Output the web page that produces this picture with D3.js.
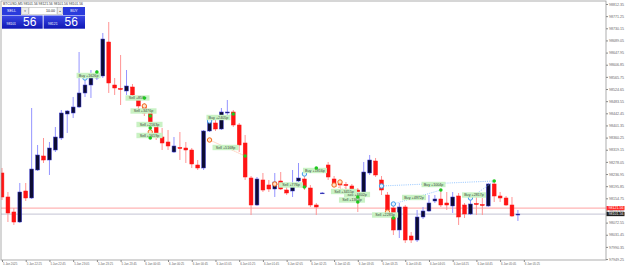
<!DOCTYPE html>
<html>
<head>
<meta charset="utf-8">
<script src="https://cdn.jsdelivr.net/npm/d3@7"></script>
<style>
  body { margin: 0; background: #fff; }
  svg { display: block; font-family: "Liberation Sans", Arial, sans-serif; }
</style>
</head>
<body>
<svg width="625" height="268"></svg>
<script>
// ---------------------------- data -----------------------------
// BTCUSD M5 bars
var opens = [98240.47,98159.25,98108.49,98074.65,98179.56,98155.87,98250.62,98298.00,98284.46,98318.30,
  98358.91,98440.12,98443.51,98463.81,98511.19,98538.26,98561.95,98568.72,98683.77,98538.26,
  98526.42,98517.96,98531.49,98487.50,98467.20,98443.51,98402.90,98362.29,98345.37,98311.53,
  98326.76,98325.07,98318.30,98267.54,98257.39,98382.60,98409.67,98389.36,98443.51,98446.89,
  98402.90,98341.99,98223.55,98132.18,98216.78,98199.86,98186.32,98213.40,98182.94,98179.56,
  98213.40,98220.16,98189.71,98132.18,98172.79,98267.54,98220.16,98206.63,98201.55,98196.48,
  98182.94,98166.02,98240.47,98281.08,98216.78,98166.02,98122.03,98047.58,98125.41,98027.28,
  98013.74,98091.57,98111.88,98145.72,98152.48,98138.95,98128.80,98162.64,98132.18,98101.72,
  98137.26,98133.87,98128.80,98203.24,98162.64,98155.87,98132.18,98098.34];
var highs = [98257.39,98176.17,98122.03,98206.63,98206.63,98460.43,98335.22,98358.91,98345.37,98396.13,
  98453.66,98453.66,98497.65,98649.93,98555.18,98589.02,98589.02,98714.23,98751.45,98561.95,
  98639.78,98589.02,98541.64,98501.04,98477.35,98453.66,98413.05,98392.75,98385.98,98362.29,
  98379.21,98345.37,98325.07,98284.46,98385.98,98419.82,98423.20,98460.43,98487.50,98453.66,
  98409.67,98369.06,98230.32,98226.93,98240.47,98216.78,98240.47,98243.85,98199.86,98250.62,
  98274.31,98233.70,98199.86,98138.95,98176.17,98277.69,98230.32,98216.78,98210.01,98203.24,
  98189.71,98277.69,98301.38,98291.23,98230.32,98176.17,98132.18,98138.95,98132.18,98040.81,
  98115.26,98125.41,98166.02,98166.02,98182.94,98176.17,98176.17,98172.79,98138.95,98149.10,
  98166.02,98155.87,98206.63,98210.01,98176.17,98162.64,98159.25,98115.26];
var lows = [98149.10,98074.65,98064.50,98071.27,98145.72,98152.48,98247.24,98274.31,98233.70,98311.53,
  98352.14,98375.83,98426.59,98460.43,98497.65,98494.27,98555.18,98561.95,98511.19,98504.42,
  98470.58,98504.42,98487.50,98453.66,98433.36,98385.98,98352.14,98318.30,98318.30,98308.15,
  98284.46,98274.31,98257.39,98250.62,98250.62,98379.21,98382.60,98385.98,98436.74,98396.13,
  98311.53,98216.78,98098.34,98128.80,98176.17,98176.17,98159.25,98182.94,98166.02,98159.25,
  98210.01,98182.94,98125.41,98098.34,98169.40,98216.78,98193.09,98189.71,98182.94,98166.02,
  98108.49,98159.25,98233.70,98226.93,98166.02,98108.49,98030.66,98020.51,98003.59,98003.59,
  98006.97,98084.80,98108.49,98138.95,98125.41,98115.26,98105.11,98064.50,98088.19,98098.34,
  98098.34,98098.34,98125.41,98142.33,98142.33,98128.80,98091.57,98078.04];
var closes = [98159.25,98105.11,98074.65,98176.17,98155.87,98254.00,98301.38,98284.46,98325.07,98362.29,
  98443.51,98450.28,98463.81,98511.19,98538.26,98561.95,98565.33,98693.92,98545.03,98528.11,
  98523.03,98534.88,98504.42,98467.20,98443.51,98402.90,98362.29,98341.99,98331.84,98331.84,
  98323.38,98318.30,98270.92,98257.39,98382.60,98413.05,98389.36,98446.89,98446.89,98402.90,
  98335.22,98226.93,98132.18,98220.16,98182.94,98186.32,98210.01,98186.32,98172.79,98193.09,
  98223.55,98193.09,98132.18,98125.41,98172.79,98226.93,98199.86,98199.86,98198.17,98182.94,
  98149.10,98243.85,98284.46,98233.70,98182.94,98115.26,98047.58,98125.41,98013.74,98013.74,
  98091.57,98111.88,98138.95,98152.48,98132.18,98132.18,98159.25,98091.57,98101.72,98135.56,
  98133.87,98130.49,98203.24,98162.64,98155.87,98132.18,98094.96,98101.56];

var bid = 98101.56;
var ask = 98121.56;

var yTicks = [98812.35,98771.25,98730.15,98689.05,98647.95,98606.85,98565.75,98524.65,98483.55,98442.45,
  98401.35,98360.25,98319.15,98278.05,98236.95,98195.85,98154.75,98113.65,98072.55,98031.45,97990.35,97949.25];

var timeLabels = ["5 Jan 2025","5 Jan 22:25","5 Jan 22:45","5 Jan 23:05","5 Jan 23:25","5 Jan 23:45",
  "6 Jan 00:05","6 Jan 00:25","6 Jan 00:45","6 Jan 01:05","6 Jan 01:25","6 Jan 01:45","6 Jan 02:05",
  "6 Jan 02:25","6 Jan 02:45","6 Jan 03:05","6 Jan 03:25","6 Jan 03:45","6 Jan 04:05","6 Jan 04:25",
  "6 Jan 04:45","6 Jan 05:05","6 Jan 05:25"];

// trade history: [bar, price]
var closeDots = [[16,98582.25],[24,98494.27],[25,98433.36],[25,98392.75],[25,98358.91],[39,98440.12],
  [41,98298.00],[51,98193.09],[53,98257.39],[60,98159.25],[60,98142.33],[66,98088.19],[74,98182.94],[83,98213.40]];
var sellOpens = [[24,98467.20],[25,98379.21],[35,98352.14],[46,98203.24],[56,98199.86],[57,98210.01],[65,98108.49]];
var buyOpens = [[14,98561.95],[35,98416.44],[51,98237.09],[64,98196.48],[66,98135.56],[79,98155.87]];
// [type, openBar, openPrice, closeBar, closePrice]
var tradeLinks = [['buy',14,98561.95,16,98582.25],['buy',35,98416.44,39,98440.12],['buy',51,98237.09,53,98257.39],
  ['buy',64,98196.48,83,98213.40],['buy',66,98135.56,74,98182.94],['buy',79,98155.87,83,98213.40],
  ['sell',35,98352.14,41,98298.00],['sell',46,98203.24,51,98193.09],['sell',56,98199.86,60,98159.25],
  ['sell',57,98210.01,60,98142.33],['sell',65,98108.49,66,98088.19]];
// [text, bar, price]
var tradeLabels = [["Buy +1626p",14.6,98570.41],["Sell +859p",22.85,98494.27],["Sell +3476p",23.86,98450.28],
  ["Sell +2163p",24.87,98404.59],["Sell +1619p",24.87,98367.37],["Buy +2405p",36.5,98428.28],
  ["Sell +5168p",37.7,98326.76],["Sell +776p",48.74,98199.86],["Buy +1816p",52.78,98248.93],
  ["Sell +3402p",59.87,98167.71],["Sell +1364p",59.02,98149.10],["Sell +3455p",57.67,98177.86],
  ["Sell +2283p",64.6,98098.34],["Buy +4972p",69.48,98157.56],["Buy +1004p",72.77,98201.55],
  ["Buy +2817p",79.6,98166.02]];

// ---------------------------- scales ---------------------------
var pL = 1, pR = 606, pT = 1, pB = 260;
var x = d3.scaleLinear().domain([0, 88]).range([2, 2 + 88 * 5.93]);
var y = d3.scaleLinear().domain([97949.25, 98812.35]).range([259.05, 4]);

var svg = d3.select('svg');
svg.append('rect').attr('width', 625).attr('height', 268).attr('fill', '#fff');

var defs = svg.append('defs');
defs.append('clipPath').attr('id', 'plot')
    .append('rect').attr('x', pL).attr('y', pT).attr('width', pR - pL).attr('height', pB - pT);

var plot = svg.append('g').attr('clip-path', 'url(#plot)');

// bid / ask lines
plot.append('line').attr('x1', pL).attr('x2', pR).attr('y1', y(ask)).attr('y2', y(ask))
    .style('stroke', '#ffb4b4').style('stroke-width', 1.3);
plot.append('line').attr('x1', pL).attr('x2', pR).attr('y1', y(bid)).attr('y2', y(bid))
    .style('stroke', '#cfcfdc').style('stroke-width', 1.3);

// ---------------------------- candles --------------------------
var bars = opens.map((o, i) => ({ i: i, o: o, h: highs[i], l: lows[i], c: closes[i], up: closes[i] >= o }));

var candle = plot.selectAll('g.bar')
    .data(bars)
    .enter().append('g').attr('class', 'bar');

candle.append('line')
    .attr('x1', d => x(d.i)).attr('x2', d => x(d.i))
    .attr('y1', d => y(d.h)).attr('y2', d => y(d.l))
    .style('stroke', d => d.up ? '#9494ff' : '#ff9494')
    .style('stroke-width', 1);

candle.append('rect')
    .attr('x', d => x(d.i) - 1.9)
    .attr('width', 3.8)
    .attr('y', d => y(Math.max(d.o, d.c)))
    .attr('height', d => Math.max(0.8, Math.abs(y(d.o) - y(d.c))))
    .style('fill', d => d.up ? '#0c0c34' : '#ff1414')
    .style('stroke', d => d.up ? '#3c3cd2' : '#ff1414')
    .style('stroke-width', 0.5);

// ---------------------------- trades ---------------------------
plot.selectAll('line.trade')
    .data(tradeLinks)
    .enter().append('line').attr('class', 'trade')
    .attr('x1', d => x(d[1])).attr('y1', d => y(d[2]))
    .attr('x2', d => x(d[3])).attr('y2', d => y(d[4]))
    .style('stroke', d => d[0] == 'buy' ? '#7ab8ff' : '#ff9a70')
    .style('stroke-width', 0.8)
    .style('stroke-dasharray', '1,1.2');

plot.selectAll('circle.sellopen')
    .data(sellOpens)
    .enter().append('circle').attr('class', 'sellopen')
    .attr('cx', d => x(d[0])).attr('cy', d => y(d[1])).attr('r', 2.2)
    .style('fill', '#ffe2cc').style('stroke', '#f26a1b').style('stroke-width', 1);

plot.selectAll('circle.buyopen')
    .data(buyOpens)
    .enter().append('circle').attr('class', 'buyopen')
    .attr('cx', d => x(d[0])).attr('cy', d => y(d[1])).attr('r', 2.2)
    .style('fill', '#e4f2ff').style('stroke', '#3f9ce8').style('stroke-width', 1);

var lab = plot.selectAll('g.tlabel')
    .data(tradeLabels)
    .enter().append('g').attr('class', 'tlabel')
    .attr('transform', d => 'translate(' + x(d[1]) + ',' + y(d[2]) + ')');
lab.append('rect')
    .attr('x', d => -d[0].length * 1.05 - 1.5).attr('y', -2.7)
    .attr('width', d => d[0].length * 2.1 + 3).attr('height', 5.4)
    .style('fill', '#c9f2c4');
lab.append('text')
    .attr('text-anchor', 'middle').attr('y', 1.3)
    .style('font-size', '3.7px').style('fill', '#3c4a3c')
    .text(d => d[0]);

plot.selectAll('circle.close')
    .data(closeDots)
    .enter().append('circle').attr('class', 'close')
    .attr('cx', d => x(d[0])).attr('cy', d => y(d[1])).attr('r', 1.8)
    .style('fill', '#1ec81e');

// ---------------------------- frame & axes ----------------------
svg.append('rect').attr('x', pL).attr('y', pT).attr('width', pR - pL).attr('height', pB - pT)
   .style('fill', 'none').style('stroke', '#9a9a9a').style('stroke-width', 0.8);

var yAxis = d3.axisRight(y).tickValues(yTicks).tickSize(2).tickPadding(1)
              .tickFormat(d3.format('.2f'));
var ya = svg.append('g').attr('transform', 'translate(' + pR + ',0)').call(yAxis);
ya.select('.domain').remove();
ya.selectAll('line').style('stroke', '#888');
ya.selectAll('text').style('font-size', '3.6px').style('fill', '#666').style('font-family', 'Liberation Sans');

var xAxis = d3.axisBottom(x).tickValues(timeLabels.map((t, k) => k * 4)).tickSize(2).tickPadding(1)
              .tickFormat((d, k) => timeLabels[k]);
var xa = svg.append('g').attr('transform', 'translate(0,' + pB + ')').call(xAxis);
xa.select('.domain').remove();
xa.selectAll('line').style('stroke', '#888');
xa.selectAll('text').attr('text-anchor', 'start').attr('x', 0.5)
  .style('font-size', '2.9px').style('fill', '#666').style('font-family', 'Liberation Sans');

// price tags on the axis
var tags = [[ask, '#ff2a2a'], [bid, '#1e1e1e']];
tags.forEach(t => {
  svg.append('rect').attr('x', pR + 0.5).attr('y', y(t[0]) - 2.1).attr('width', 18).attr('height', 4.2)
     .style('fill', t[1]);
  svg.append('text').attr('x', pR + 2.5).attr('y', y(t[0]) + 1.3)
     .style('font-size', '3.6px').style('fill', '#fff').text(d3.format('.2f')(t[0]));
});

// title
svg.append('text').attr('x', 3).attr('y', 4.5)
   .style('font-size', '3.4px').style('fill', '#333')
   .text('BTCUSD,M5  ' + [bid, ask, bid, bid].map(d3.format('.2f')).join(' '));

// ---------------------------- one-click panel -------------------
var grad = defs.append('linearGradient').attr('id', 'pbg').attr('x1', 0).attr('x2', 0).attr('y1', 0).attr('y2', 1);
grad.append('stop').attr('offset', 0).attr('stop-color', '#3a48e6');
grad.append('stop').attr('offset', 1).attr('stop-color', '#0f17b4');

var panel = svg.append('g');
panel.append('rect').attr('x', 2).attr('y', 7).attr('width', 19).attr('height', 8).style('fill', '#2a3bdc');
panel.append('rect').attr('x', 63).attr('y', 7).attr('width', 22).attr('height', 8).style('fill', '#2a3bdc');
panel.append('rect').attr('x', 21.3).attr('y', 7.3).attr('width', 7.4).attr('height', 7.4)
     .style('fill', '#ececec').style('stroke', '#aaa').style('stroke-width', 0.5);
panel.append('rect').attr('x', 29).attr('y', 7.3).attr('width', 28).attr('height', 7.4)
     .style('fill', '#fff').style('stroke', '#aaa').style('stroke-width', 0.5);
panel.append('rect').attr('x', 57.3).attr('y', 7.3).attr('width', 5.4).attr('height', 7.4)
     .style('fill', '#ececec').style('stroke', '#aaa').style('stroke-width', 0.5);
panel.append('text').attr('x', 11.5).attr('y', 12.4).attr('text-anchor', 'middle')
     .style('font-size', '3.6px').style('fill', '#fff').text('SELL');
panel.append('text').attr('x', 74).attr('y', 12.4).attr('text-anchor', 'middle')
     .style('font-size', '3.6px').style('fill', '#fff').text('BUY');
panel.append('text').attr('x', 25).attr('y', 12).attr('text-anchor', 'middle')
     .style('font-size', '2.6px').style('fill', '#555').text('▼');
panel.append('text').attr('x', 60).attr('y', 12).attr('text-anchor', 'middle')
     .style('font-size', '2.6px').style('fill', '#555').text('▲');
panel.append('text').attr('x', 55).attr('y', 12.4).attr('text-anchor', 'end')
     .style('font-size', '3.6px').style('fill', '#222').text('10.00');

var quotes = [[bid, 2, 40.7], [ask, 43.6, 41.4]];
quotes.forEach(q => {
  var s = d3.format('.2f')(q[0]).split('.');
  panel.append('rect').attr('x', q[1]).attr('y', 15.5).attr('width', q[2]).attr('height', 13.2)
       .style('fill', 'url(#pbg)');
  panel.append('text').attr('x', q[1] + 4.5).attr('y', 24.6)
       .style('font-size', '3.4px').style('fill', '#fff').text(s[0]);
  panel.append('text').attr('x', q[1] + 21).attr('y', 26.4)
       .style('font-size', '12px').style('fill', '#fff').text(s[1]);
});
</script>
</body>
</html>
